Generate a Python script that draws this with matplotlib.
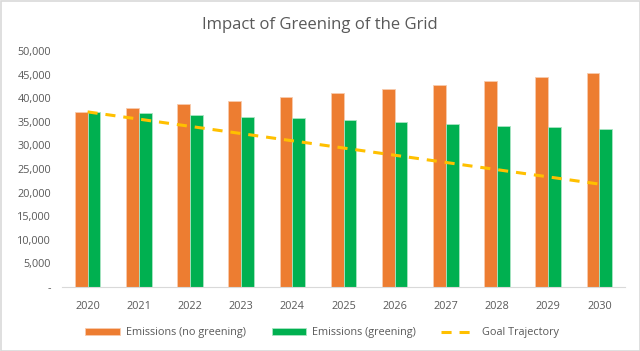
import matplotlib
matplotlib.use("Agg")
import matplotlib.pyplot as plt
import numpy as np
from matplotlib.ticker import FuncFormatter

years = ["2020", "2021", "2022", "2023", "2024", "2025", "2026", "2027", "2028", "2029", "2030"]
no_greening = [37100, 37900, 38700, 39400, 40250, 41050, 41900, 42750, 43600, 44450, 45350]
greening = [37100, 36800, 36400, 36050, 35700, 35300, 35000, 34600, 34150, 33800, 33400]
goal = [37100, 35570, 34040, 32510, 30980, 29450, 27920, 26390, 24860, 23330, 21800]

plt.rcParams['font.family'] = ['Open Sans', 'DejaVu Sans']
txt = '#595959'
fs = 7.8

fig = plt.figure(figsize=(6.4, 3.51), dpi=100)
ax = fig.add_axes([62/640, 1-287/351, (625-62)/640, (287-51)/351])

x = np.arange(len(years))
w = 0.25
b1 = ax.bar(x - w/2, no_greening, width=w, color='#ED7D31', edgecolor='#F8CBAD', linewidth=0.6,
            label='Emissions (no greening)', zorder=2)
b2 = ax.bar(x + w/2, greening, width=w, color='#00B050', edgecolor='#A9E5C3', linewidth=0.6,
            label='Emissions (greening)', zorder=2)
l1, = ax.plot(x, goal, color='#FFC000', lw=2.2, linestyle=(0, (3.3, 2.6)), label='Goal Trajectory', zorder=3)

ax.set_xlim(-0.5, len(years) - 0.5)
ax.set_ylim(0, 50000)
ax.set_yticks(np.arange(0, 50001, 5000))
ax.yaxis.set_major_formatter(FuncFormatter(lambda v, p: '-' if v == 0 else f'{int(v):,}'))
ax.set_xticks(x)
ax.set_xticklabels(years)
for s in ['top', 'right', 'left']:
    ax.spines[s].set_visible(False)
ax.spines['bottom'].set_color('#D9D9D9')
ax.tick_params(axis='both', length=0, colors=txt, labelsize=fs)
ax.tick_params(axis='y', pad=8)
ax.tick_params(axis='x', pad=10)

fig.text(0.5, 1-25/351, 'Impact of Greening of the Grid', ha='center', va='center',
         fontsize=12.0, color=txt)

fig.legend(handles=[b1, b2, l1], loc='center', bbox_to_anchor=(322/640, 1-333/351), ncol=3,
           frameon=False, fontsize=fs, labelcolor=txt, handlelength=3.2, handleheight=0.65,
           columnspacing=2.4, handletextpad=0.5)

border = plt.Rectangle((0.5/640, 0.5/351), 1-1/640, 1-1/351, transform=fig.transFigure,
                       fill=False, edgecolor='#D9D9D9', lw=1.2)
fig.patches.append(border)

fig.savefig('out.png', dpi=100)
